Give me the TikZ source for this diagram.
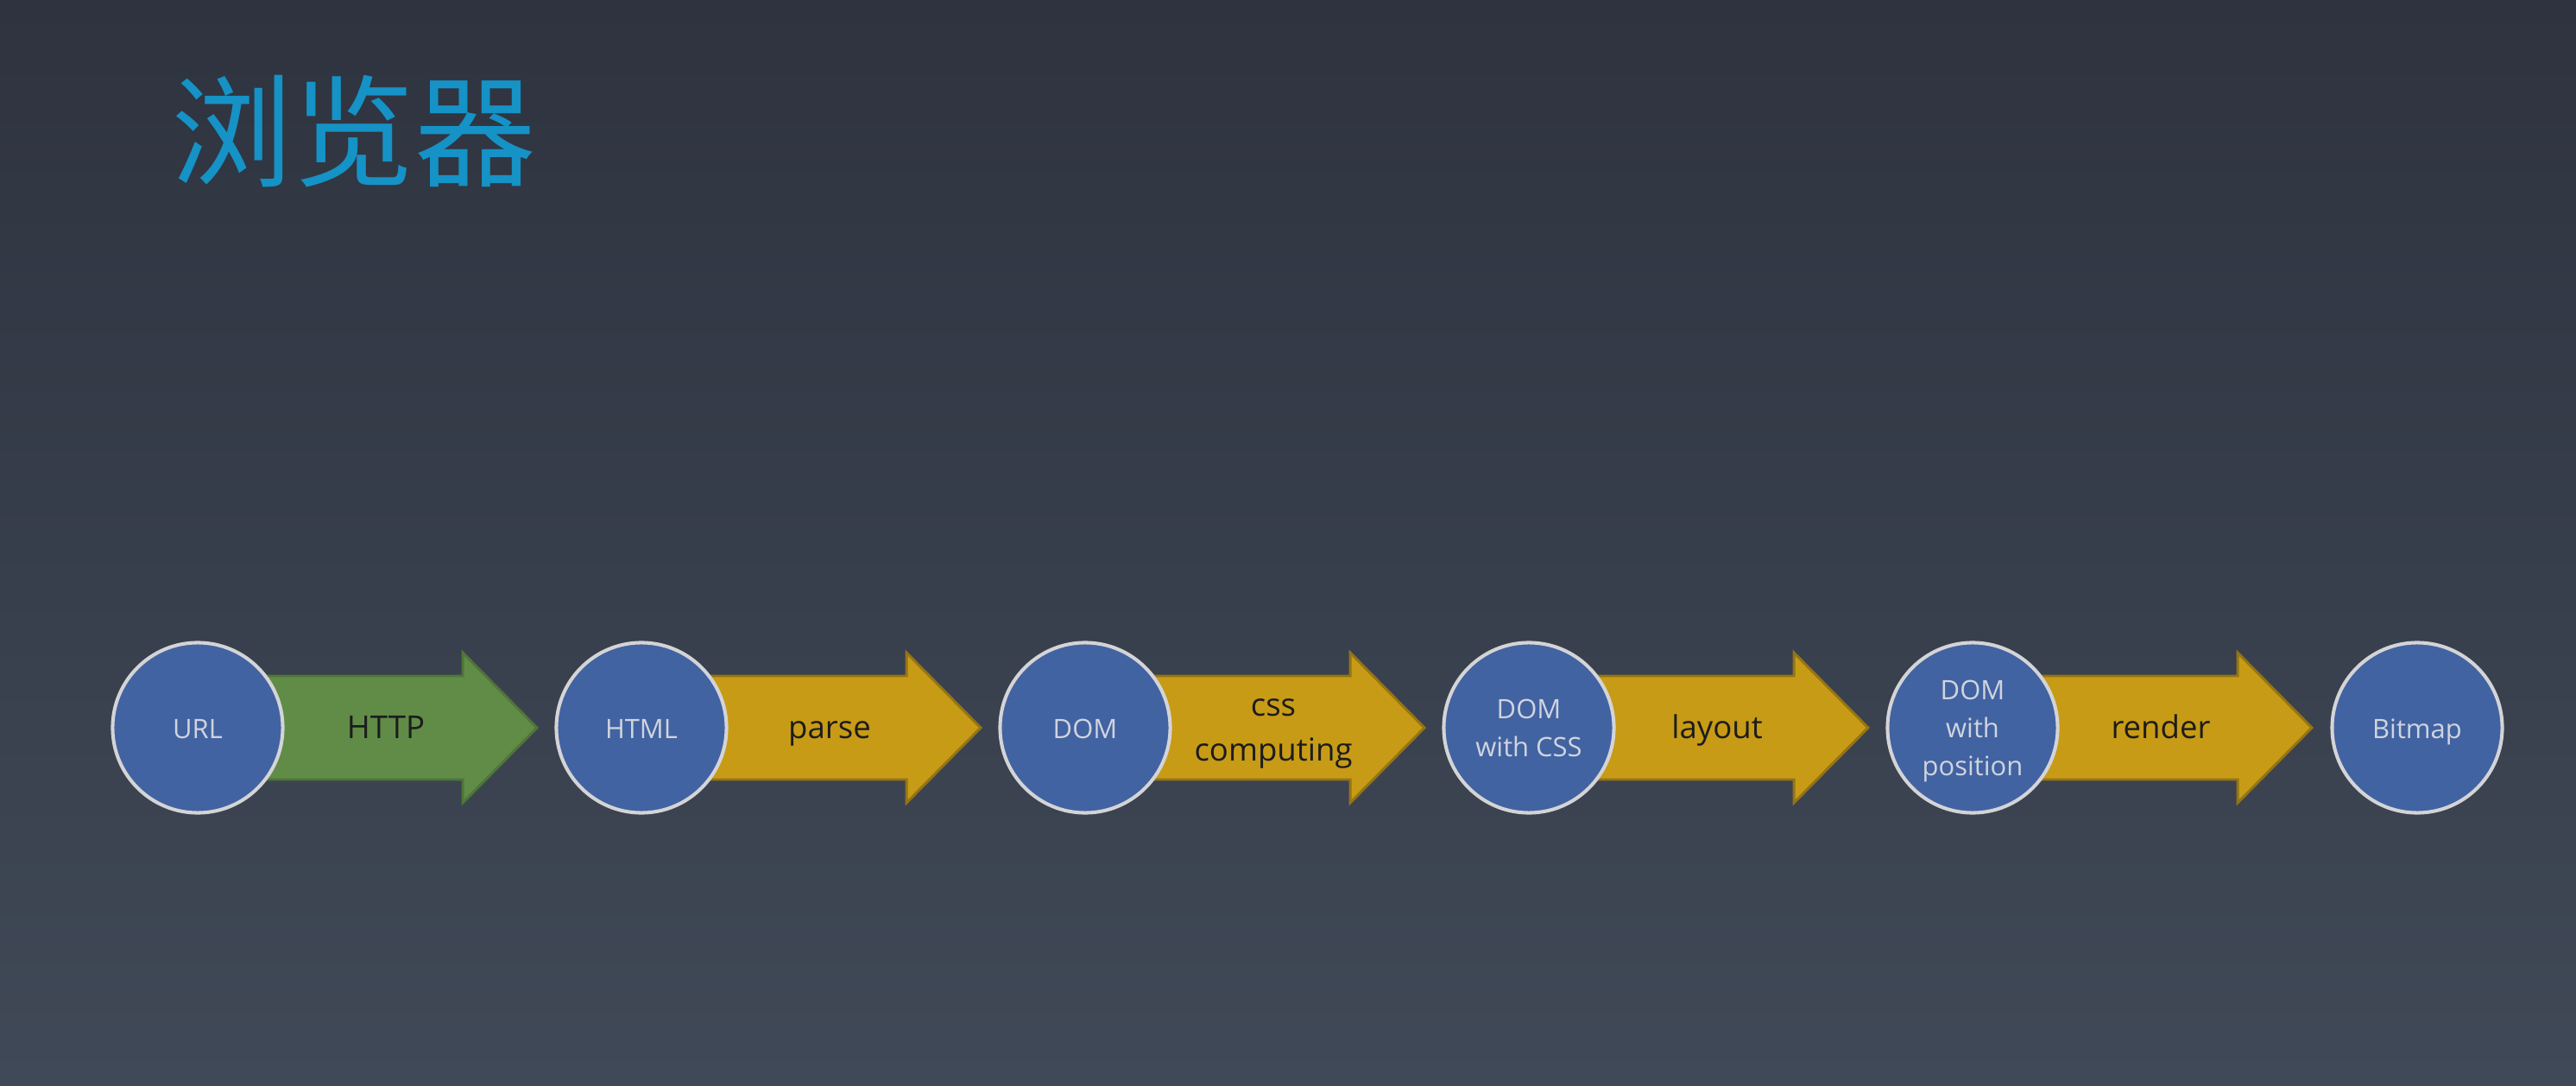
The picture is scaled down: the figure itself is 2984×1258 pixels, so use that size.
\documentclass[tikz,border=0pt]{standalone}
\usepackage{fontspec}
\setmainfont{Open Sans}
\newfontfamily\cjk{Noto Sans CJK SC}
\usetikzlibrary{calc}
\pgfdeclarelayer{back}
\pgfdeclarelayer{mid}
\pgfsetlayers{back,mid,main}

\definecolor{bgtop}{RGB}{46,51,63}
\definecolor{bgbot}{RGB}{64,73,87}
\definecolor{titleblue}{RGB}{21,146,198}
\definecolor{nodefill}{RGB}{66,99,162}
\definecolor{noderim}{RGB}{212,212,214}
\definecolor{nodetext}{RGB}{208,212,222}
\definecolor{greenfill}{RGB}{96,140,71}
\definecolor{greenrim}{RGB}{78,118,56}
\definecolor{goldfill}{RGB}{199,155,22}
\definecolor{goldrim}{RGB}{148,116,20}
\definecolor{labeltext}{RGB}{28,28,28}

\tikzset{
  stage/.style={circle, draw=noderim, line width=1.15pt, fill=nodefill,
    minimum size=1.97cm, inner sep=0pt, align=center, text=nodetext,
    font=\fontsize{8.8}{12.5}\selectfont},
  stagetext/.style={text=nodetext, align=center, inner sep=0pt,
    font=\fontsize{8.8}{12.5}\selectfont},
  greenarrow/.style={fill=greenfill, draw=greenrim, line width=0.85pt, line join=miter},
  goldarrow/.style={fill=goldfill, draw=goldrim, line width=0.85pt, line join=miter},
  steplabel/.style={text=labeltext, align=center, inner sep=0pt,
    font=\fontsize{10.4}{15}\selectfont},
  % single-line texts sit on a common baseline
  oneline/.style={text height=0.72em, text depth=0pt},
}

% block arrow starting inside node #1
\newcommand\blockarrow[2]{%
  \draw[#2] ($(#1)+(50,-60)$) -- ($(#1)+(307,-60)$) -- ($(#1)+(307,-87)$)
    -- ($(#1)+(393,0)$) -- ($(#1)+(307,87)$) -- ($(#1)+(307,60)$)
    -- ($(#1)+(50,60)$) -- cycle;}

\begin{document}
\begin{tikzpicture}[x=0.01cm, y=-0.01cm]
  \begin{pgfonlayer}{back}
    \fill[top color=bgtop, bottom color=bgbot] (0,0) rectangle (2984,1258);
  \end{pgfonlayer}
  \useasboundingbox (0,0) rectangle (2984,1258);

  % title
  \node[anchor=west, inner sep=0pt, text=titleblue,
        font=\cjk\fontsize{40}{40}\selectfont] (title) at (198,152) {浏览器};

  % pipeline stages
  \node[stage, oneline] (url)    at (229,843)  {URL};
  \node[stage, oneline] (html)   at (743,843)  {HTML};
  \node[stage, oneline] (dom)    at (1257,843) {DOM};
  \node[stage] (domcss) at (1771,843) {DOM\\with CSS};
  \node[stage] (dompos) at (2285,843) {};
  \node[stage, oneline] (bitmap) at (2800,843) {Bitmap};
  \node[stagetext] (dompostext) at ($(dompos)+(0,4)$) {DOM\\with\\position};

  % transitions between stages
  \begin{pgfonlayer}{mid}
    \blockarrow{url}{greenarrow}
    \blockarrow{html}{goldarrow}
    \blockarrow{dom}{goldarrow}
    \blockarrow{domcss}{goldarrow}
    \blockarrow{dompos}{goldarrow}
  \end{pgfonlayer}

  \node[steplabel, oneline] (lhttp)   at ($(url)+(218,0)$)    {HTTP};
  \node[steplabel, oneline] (lparse)  at ($(html)+(218,0)$)   {parse};
  \node[steplabel] (lcss)    at ($(dom)+(218,7)$)    {css\\computing};
  \node[steplabel, oneline] (llayout) at ($(domcss)+(218,0)$) {layout};
  \node[steplabel, oneline] (lrender) at ($(dompos)+(218,0)$) {render};
\end{tikzpicture}
\end{document}
